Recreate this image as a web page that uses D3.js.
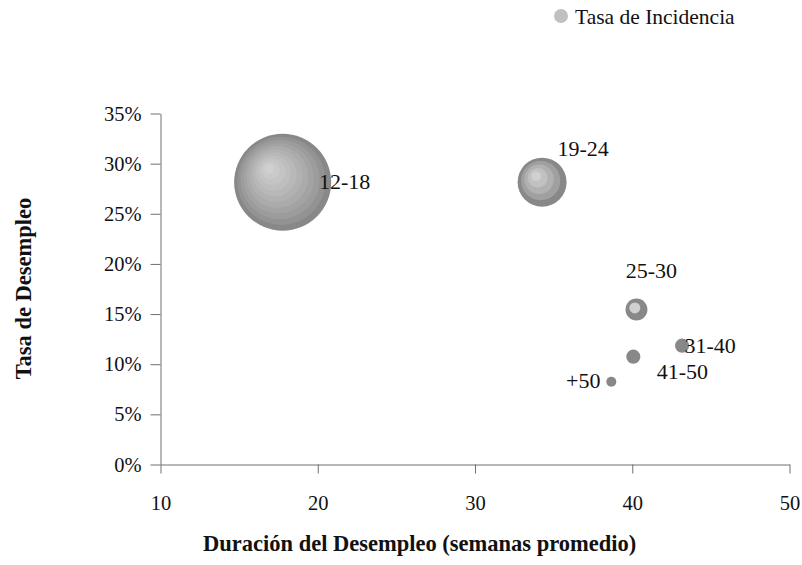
<!DOCTYPE html>
<html>
<head>
<meta charset="utf-8">
<script src="https://cdn.jsdelivr.net/npm/d3@7"></script>
<style>
  body { margin: 0; background: #fff; }
  text { font-family: "Liberation Serif", "Times New Roman", serif; fill: #111; }
</style>
</head>
<body>
<svg id="chart" width="802" height="565"></svg>
<script>
// Age groups with average unemployment duration, unemployment rate and incidence
const ageGroups = ["12-18", "19-24", "25-30", "31-40", "41-50", "+50"];
const durationWeeks = [17.8, 34.3, 40.3, 43.2, 40.1, 38.7];
const unemploymentRate = [0.281, 0.281, 0.154, 0.118, 0.107, 0.082];
const incidenceRate = [47, 12, 2.4, 1.0, 1.0, 0.5];

const xTicks = [10, 20, 30, 40, 50];
const yTicks = [0, 0.05, 0.10, 0.15, 0.20, 0.25, 0.30, 0.35];
const seriesName = "Tasa de Incidencia";
const xTitle = "Duración del Desempleo (semanas promedio)";
const yTitle = "Tasa de Desempleo";

// Label placement relative to each bubble centre (layout only)
const labelOffsets = [[62, -1], [41, -34], [15, -39], [28, 0], [49, 15], [-28, -1]];

const serif = "'Liberation Serif', 'Times New Roman', serif";
const svg = d3.select("#chart");
const plot = { left: 160, right: 789, top: 113, bottom: 464 };

const x = d3.scaleLinear().domain([10, 50]).range([plot.left, plot.right]);
const y = d3.scaleLinear().domain([0, 0.35]).range([plot.bottom, plot.top]);
const r = d3.scaleSqrt().domain([0, 47]).range([0, 48.5]);

const axisColor = "#707070";

// Y axis
const gy = svg.append("g")
  .attr("transform", `translate(${plot.left + 0.5},0.5)`)
  .call(d3.axisLeft(y).tickValues(yTicks).tickFormat(d3.format(".0%"))
    .tickSize(10).tickSizeOuter(0).tickPadding(9));
// X axis
const gx = svg.append("g")
  .attr("transform", `translate(0.5,${plot.bottom + 0.5})`)
  .call(d3.axisBottom(x).tickValues(xTicks).tickFormat(d3.format("d"))
    .tickSize(9).tickSizeOuter(0).tickPadding(22));

[gx, gy].forEach(g => {
  g.attr("font-family", serif);
  g.select(".domain").attr("stroke", axisColor);
  g.selectAll(".tick line").attr("stroke", axisColor);
  g.selectAll(".tick text").attr("font-family", serif)
    .style("font-size", "20.5px").attr("fill", "#111");
});

// Bubbles drawn as banded shading: concentric rings, lighter toward an upper-left focus
const edgeColor = "#888888", coreColor = "#d0d0d0";
const bubbles = svg.append("g");
ageGroups.forEach((name, i) => {
  const cx = x(durationWeeks[i]);
  const cy = y(unemploymentRate[i]);
  const rad = r(incidenceRate[i]);
  const bands = Math.max(1, Math.floor(rad / 4.4));
  const focus = 0.3 * rad;
  const g = bubbles.append("g");
  for (let b = 0; b < bands; b++) {
    const t = bands === 1 ? 0 : b / (bands - 1);
    const shift = focus * (b / bands);
    g.append("circle")
      .attr("cx", cx - shift)
      .attr("cy", cy - shift)
      .attr("r", rad * (1 - b / bands))
      .attr("fill", d3.interpolateRgb(edgeColor, coreColor)(Math.pow(t, 0.8)));
  }
});

// Data labels
svg.append("g").selectAll("text")
  .data(ageGroups)
  .join("text")
  .attr("font-family", serif)
  .attr("x", (d, i) => x(durationWeeks[i]) + labelOffsets[i][0])
  .attr("y", (d, i) => y(unemploymentRate[i]) + labelOffsets[i][1])
  .attr("text-anchor", "middle")
  .attr("dy", "0.35em")
  .style("font-size", "22px")
  .text(d => d);

// Legend
const legend = svg.append("g").attr("transform", "translate(561,16)");
legend.append("circle").attr("r", 7).attr("fill", "#c0c0c0");
legend.append("text").attr("font-family", serif)
  .attr("x", 14).attr("y", 8)
  .style("font-size", "21.5px").text(seriesName);

// Axis titles
svg.append("text")
  .attr("font-family", serif)
  .attr("x", 203).attr("y", 551)
  .style("font-size", "22.5px").style("font-weight", "bold")
  .text(xTitle);
svg.append("text")
  .attr("font-family", serif)
  .attr("transform", `translate(31,${(plot.top + plot.bottom) / 2}) rotate(-90)`)
  .attr("text-anchor", "middle")
  .style("font-size", "22.5px").style("font-weight", "bold")
  .text(yTitle);
</script>
</body>
</html>
